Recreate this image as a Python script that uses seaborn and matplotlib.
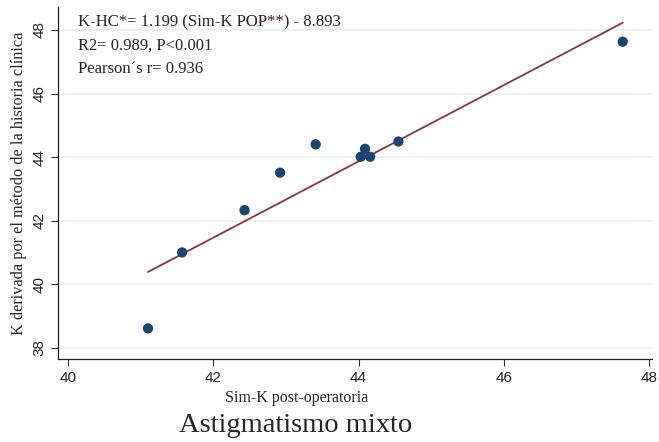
import numpy as np
import pandas as pd
import matplotlib
matplotlib.use("Agg")
import matplotlib.pyplot as plt
import seaborn as sns

# ---------------------------------------------------------
# Data
# ---------------------------------------------------------
sim_k = [41.10, 41.57, 42.43, 42.92, 43.41, 44.03, 44.09, 44.16, 44.55, 47.64]
k_hc = [38.61, 41.00, 42.33, 43.51, 44.40, 44.01, 44.26, 44.01, 44.49, 47.63]
slope, intercept = 1.199, -8.893
ann_lines = ["K-HC*= 1.199 (Sim-K POP**) - 8.893",
             "R2= 0.989, P<0.001",
             "Pearson\u00b4s r= 0.936"]
x_ticks = [40, 42, 44, 46, 48]
y_ticks = [38, 40, 42, 44, 46, 48]

df = pd.DataFrame({"sim_k": sim_k, "k_hc": k_hc})
fit = pd.DataFrame({"sim_k": [df.sim_k.min(), df.sim_k.max()]})
fit["k_hc"] = slope * fit.sim_k + intercept

# ---------------------------------------------------------
# Plot
# ---------------------------------------------------------
sns.set_theme(style="white")
serif = "Liberation Serif"
sans = "Liberation Sans"

fig = plt.figure(figsize=(6.59, 4.42), dpi=100)
ax = fig.add_axes([0.088, 0.188, 0.901, 0.796])

ax.yaxis.grid(True, color="#eaf2f3", linewidth=1.3)
ax.set_axisbelow(True)

sns.lineplot(data=fit, x="sim_k", y="k_hc", color="#90353b", linewidth=1.3, ax=ax)
sns.scatterplot(data=df, x="sim_k", y="k_hc", color="#1a476f", s=55,
                edgecolor="none", ax=ax, zorder=3)

ax.set_xlim(39.86, 48.04)
ax.set_ylim(37.65, 48.72)
ax.set_xticks(x_ticks)
ax.set_yticks(y_ticks)
ax.tick_params(axis="both", direction="out", length=5, width=0.8, color="#333333",
               labelsize=11, bottom=True, left=True)
for lab in ax.get_xticklabels() + ax.get_yticklabels():
    lab.set_fontfamily(sans)
for lab in ax.get_yticklabels():
    lab.set_rotation(90)
    lab.set_va("center")

sns.despine(ax=ax)
for side in ["left", "bottom"]:
    ax.spines[side].set_color("#222222")
    ax.spines[side].set_linewidth(0.9)

ax.set_xlabel("Sim-K post-operatoria", fontfamily=serif, fontsize=11.5)
ax.set_ylabel("K derivada por el m\u00e9todo de la historia cl\u00ednica",
              fontfamily=serif, fontsize=11.7)
ax.xaxis.set_label_coords(0.402, -0.088)
ax.yaxis.set_label_coords(-0.052, 0.5)

for i, line in enumerate(ann_lines):
    ax.text(0.034, 0.944 - i * 0.0653, line, transform=ax.transAxes,
            fontfamily=serif, fontsize=12, va="baseline", ha="left")

fig.text(0.448, 0.038, "Astigmatismo mixto", fontfamily=serif, fontsize=20.5,
         ha="center", va="center")

fig.savefig("out.png", dpi=100)
plt.close(fig)
